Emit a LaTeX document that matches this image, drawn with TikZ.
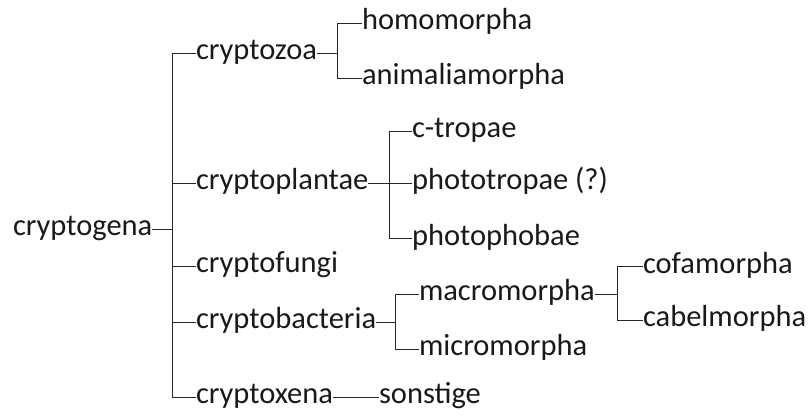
\documentclass[tikz,border=0pt]{standalone}
\usepackage{fontspec}
\setmainfont{Carlito}
\begin{document}
\begin{tikzpicture}[x=1pt,y=-1pt,
  lbl/.style={anchor=west,inner sep=0pt,outer sep=0pt,font=\fontsize{30.5}{34}\selectfont,
    text height=22pt,text depth=9pt,text=black!90},
  edge/.style={draw=black!85,line width=0.9pt}]
\useasboundingbox (0,0) rectangle (808,417);
% nodes
\node[lbl] (gena) at (13,229) {cryptogena};
\node[lbl] (zoa) at (196,53) {cryptozoa};
\node[lbl] (plant) at (196,183) {cryptoplantae};
\node[lbl] (fungi) at (196,266) {cryptofungi};
\node[lbl] (bact) at (196,322) {cryptobacteria};
\node[lbl] (xena) at (196,397) {cryptoxena};
\node[lbl] (homo) at (362,23.5) {homomorpha};
\node[lbl] (anim) at (362,78.5) {animaliamorpha};
\node[lbl] (ctro) at (412,131.5) {c-tropae};
\node[lbl] (photo) at (412,183) {phototropae (?)};
\node[lbl] (phob) at (412,238.5) {photophobae};
\node[lbl] (macro) at (419,294) {macromorpha};
\node[lbl] (micro) at (419,349) {micromorpha};
\node[lbl] (cofa) at (643,266.5) {cofamorpha};
\node[lbl] (cabel) at (643,320) {cabelmorpha};
\node[lbl] (sonst) at (379,397) {sonstige};
% fork coordinates
\coordinate (f0) at (172,229);
\coordinate (f1) at (337,53);
\coordinate (f2) at (389.5,183);
\coordinate (f3) at (395.5,322);
\coordinate (f4) at (617.5,294);
\coordinate (f5) at (357,397);
% edges
\path[edge] (gena.east) -- (f0);
\foreach \c in {zoa,plant,fungi,bact,xena}
  \path[edge] (f0) |- (\c.west);
\path[edge] (zoa.east) -- (f1);
\foreach \c in {homo,anim}
  \path[edge] (f1) |- (\c.west);
\path[edge] (plant.east) -- (f2);
\foreach \c in {ctro,photo,phob}
  \path[edge] (f2) |- (\c.west);
\path[edge] (bact.east) -- (f3);
\foreach \c in {macro,micro}
  \path[edge] (f3) |- (\c.west);
\path[edge] (macro.east) -- (f4);
\foreach \c in {cofa,cabel}
  \path[edge] (f4) |- (\c.west);
\path[edge] (xena.east) -- (f5);
\path[edge] (f5) -- (sonst.west);
\end{tikzpicture}
\end{document}
